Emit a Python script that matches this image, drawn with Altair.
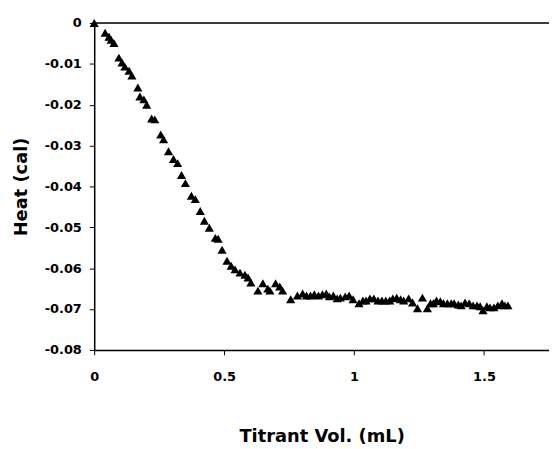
import altair as alt
import pandas as pd

# Titrant volume (mL)
titrant_ml = [
    0.000, 0.042, 0.057, 0.065, 0.076, 0.095, 0.107, 0.118, 0.134, 0.145,
    0.168, 0.176, 0.191, 0.202, 0.221, 0.233, 0.256, 0.267, 0.286, 0.305,
    0.321, 0.336, 0.351, 0.374, 0.389, 0.408, 0.424, 0.443, 0.466, 0.477,
    0.492, 0.511, 0.527, 0.542, 0.561, 0.580, 0.592, 0.603, 0.630, 0.649,
    0.668, 0.676, 0.698, 0.714, 0.725, 0.756, 0.782, 0.802, 0.817, 0.832,
    0.847, 0.863, 0.878, 0.893, 0.905, 0.920, 0.935, 0.947, 0.966, 0.981,
    0.996, 1.019, 1.034, 1.046, 1.061, 1.076, 1.092, 1.107, 1.122, 1.137,
    1.149, 1.164, 1.179, 1.191, 1.210, 1.225, 1.244, 1.263, 1.282, 1.294,
    1.305, 1.317, 1.332, 1.344, 1.359, 1.374, 1.385, 1.401, 1.412, 1.427,
    1.443, 1.458, 1.473, 1.485, 1.496, 1.511, 1.523, 1.538, 1.553, 1.569,
    1.580, 1.592,
]

# Heat (cal)
heat_cal = [
    0.0000, -0.0024, -0.0034, -0.0041, -0.0049, -0.0085, -0.0097, -0.0107, -0.0117, -0.0129,
    -0.0158, -0.0180, -0.0187, -0.0200, -0.0234, -0.0236, -0.0273, -0.0285, -0.0314, -0.0333,
    -0.0343, -0.0372, -0.0392, -0.0423, -0.0431, -0.0460, -0.0484, -0.0501, -0.0526, -0.0528,
    -0.0555, -0.0582, -0.0594, -0.0603, -0.0611, -0.0616, -0.0623, -0.0635, -0.0655, -0.0637,
    -0.0650, -0.0655, -0.0637, -0.0645, -0.0655, -0.0676, -0.0667, -0.0662, -0.0667, -0.0667,
    -0.0664, -0.0667, -0.0664, -0.0662, -0.0669, -0.0667, -0.0674, -0.0672, -0.0669, -0.0667,
    -0.0676, -0.0686, -0.0679, -0.0679, -0.0674, -0.0674, -0.0679, -0.0679, -0.0679, -0.0679,
    -0.0674, -0.0672, -0.0676, -0.0679, -0.0674, -0.0684, -0.0698, -0.0672, -0.0698, -0.0686,
    -0.0686, -0.0679, -0.0681, -0.0686, -0.0686, -0.0686, -0.0686, -0.0689, -0.0691, -0.0684,
    -0.0686, -0.0691, -0.0691, -0.0693, -0.0703, -0.0693, -0.0696, -0.0696, -0.0691, -0.0686,
    -0.0691, -0.0691,
]

x_ticks = [0, 0.5, 1, 1.5]
y_ticks = [0, -0.01, -0.02, -0.03, -0.04, -0.05, -0.06, -0.07, -0.08]
x_domain = [0, 1.75]
y_domain = [-0.08, 0]

df = pd.DataFrame({"x": titrant_ml, "y": heat_cal})

FONT = "DejaVu Sans"

x_enc = alt.X(
    "x:Q",
    scale=alt.Scale(domain=x_domain, nice=False, zero=False),
    axis=alt.Axis(
        values=x_ticks,
        format="~g",
        title="Titrant Vol. (mL)",
        grid=False,
        domainColor="black",
        domainWidth=1.5,
        tickColor="black",
        tickSize=5,
        labelPadding=16,
        labelFont=FONT,
        labelFontWeight="bold",
        labelFontSize=13,
        labelColor="black",
        titleFont=FONT,
        titleFontWeight="bold",
        titleFontSize=18,
        titleColor="black",
        titlePadding=44,
        labelFlush=False,
    ),
)

y_enc = alt.Y(
    "y:Q",
    scale=alt.Scale(domain=y_domain, nice=False, zero=False),
    axis=alt.Axis(
        values=y_ticks,
        labelExpr="datum.value == 0 ? '0' : '-' + format(abs(datum.value), '.2f')",
        title="Heat (cal)",
        grid=False,
        domainColor="black",
        domainWidth=1.5,
        tickColor="black",
        tickSize=5,
        labelPadding=8,
        labelFont=FONT,
        labelFontWeight="bold",
        labelFontSize=13,
        labelColor="black",
        titleFont=FONT,
        titleFontWeight="bold",
        titleFontSize=18,
        titleColor="black",
        titlePadding=14,
        labelFlush=False,
    ),
)

points = alt.Chart(df).mark_point(
    shape="triangle-up", filled=True, color="black", opacity=1, size=85
).encode(x=x_enc, y=y_enc)

top_line = alt.Chart(pd.DataFrame({"a": [0]})).mark_rule(
    color="black", strokeWidth=1.5
).encode(
    x=alt.datum(x_domain[0]),
    x2=alt.datum(x_domain[1]),
    y=alt.datum(y_domain[1]),
)

chart = (
    alt.layer(points, top_line)
    .properties(
        width=459,
        height=330,
        autosize=alt.AutoSizeParams(type="none"),
        padding={"left": 87, "top": 13, "right": 0, "bottom": 104},
    )
    .configure_view(stroke=None)
    .configure(background="white")
)

chart.save("out.html", embed_options={"renderer": "svg", "actions": False})
